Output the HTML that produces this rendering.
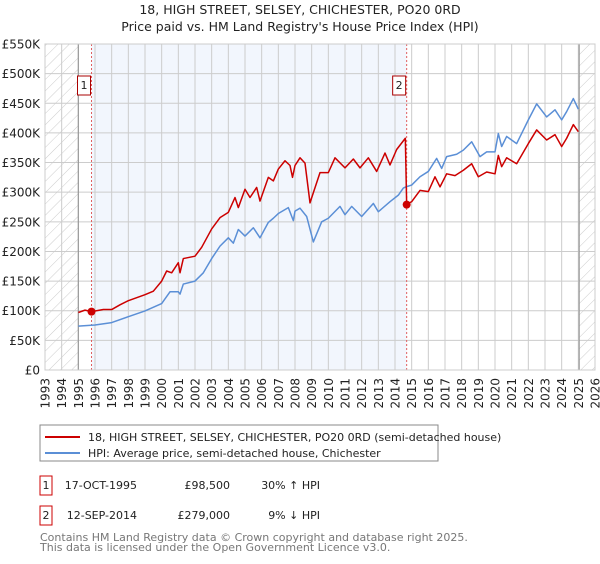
<!DOCTYPE html>
<html><head><meta charset="utf-8"><style>
body{margin:0;background:#fff;width:600px;height:560px;overflow:hidden;font-family:"DejaVu Sans","Liberation Sans",sans-serif}
svg text{font-family:"DejaVu Sans","Liberation Sans",sans-serif}
</style></head><body>
<svg id="chart" width="600" height="560" viewBox="0 0 600 560" xmlns="http://www.w3.org/2000/svg">
<defs><pattern id="hatch" patternUnits="userSpaceOnUse" width="8" height="8" patternTransform="rotate(45)"><rect width="8" height="8" fill="#fff"/><line x1="0" y1="0" x2="0" y2="8" stroke="#ccc" stroke-width="1"/></pattern></defs>
<text x="300" y="14" text-anchor="middle" font-size="12.5" fill="#222">18, HIGH STREET, SELSEY, CHICHESTER, PO20 0RD</text>
<text x="300" y="31" text-anchor="middle" font-size="12.5" fill="#222">Price paid vs. HM Land Registry's House Price Index (HPI)</text>
<g id="plot"></g>
<g>
<rect x="40" y="425" width="398" height="36" fill="#fff" stroke="#888"/>
<line x1="45" y1="437" x2="80" y2="437" stroke="#cc0000" stroke-width="2"/>
<text x="88" y="441" font-size="11" fill="#222">18, HIGH STREET, SELSEY, CHICHESTER, PO20 0RD (semi-detached house)</text>
<line x1="45" y1="453" x2="80" y2="453" stroke="#5b8fd6" stroke-width="2"/>
<text x="88" y="457" font-size="11" fill="#222">HPI: Average price, semi-detached house, Chichester</text>
</g>
<g font-size="11" fill="#222">
<rect x="40" y="476" width="12" height="19" fill="#fff" stroke="#cc0000"/>
<text x="46" y="489" text-anchor="middle">1</text>
<text x="137" y="489" text-anchor="end">17-OCT-1995</text>
<text x="230" y="489" text-anchor="end">£98,500</text>
<text x="320" y="489" text-anchor="end">30% ↑ HPI</text>
<rect x="40" y="506" width="12" height="19" fill="#fff" stroke="#cc0000"/>
<text x="46" y="519" text-anchor="middle">2</text>
<text x="137" y="519" text-anchor="end">12-SEP-2014</text>
<text x="230" y="519" text-anchor="end">£279,000</text>
<text x="320" y="519" text-anchor="end">9% ↓ HPI</text>
</g>
<text x="40" y="541" font-size="11" fill="#777">Contains HM Land Registry data © Crown copyright and database right 2025.</text>
<text x="40" y="551" font-size="11" fill="#777">This data is licensed under the Open Government Licence v3.0.</text>
</svg>
<script>
const hpiYears=[1995.0,1996.0,1997.0,1998.0,1999.0,2000.0,2000.5,2001.0,2001.1,2001.3,2002.0,2002.5,2003.0,2003.5,2004.0,2004.3,2004.6,2005.0,2005.5,2005.9,2006.4,2006.7,2007.0,2007.6,2007.9,2008.0,2008.3,2008.7,2009.1,2009.6,2010.0,2010.7,2011.0,2011.4,2012.0,2012.7,2013.0,2013.7,2014.2,2014.5,2014.66,2015.0,2015.5,2016.0,2016.5,2016.8,2017.1,2017.7,2018.1,2018.6,2019.1,2019.5,2020.0,2020.2,2020.4,2020.7,2021.3,2022.0,2022.5,2023.1,2023.6,2024.0,2024.3,2024.7,2025.0];
const hpiValues=[74,76,80,90,99.6,112,132,132,128,145,150,164,188,209,223,214,237,226,240,223,249,256,264,274,252,268,273,259,216,250,256,276,262,276,259,281,267,284,295,307,309,312,326,335,357,340,360,364,371,385,360,368,368,399,377,394,382,422,449,427,439,422,436,458,440];
const redYears=[1995.0,1995.4,1995.79,1996.5,1997.0,1997.5,1998.0,1998.5,1999.0,1999.5,2000.0,2000.3,2000.6,2001.0,2001.1,2001.3,2002.0,2002.4,2003.0,2003.5,2004.0,2004.4,2004.6,2005.0,2005.3,2005.7,2005.9,2006.4,2006.7,2007.0,2007.4,2007.7,2007.85,2008.0,2008.3,2008.6,2008.9,2009.1,2009.5,2010.0,2010.4,2011.0,2011.5,2011.9,2012.4,2012.9,2013.4,2013.7,2014.1,2014.62,2014.7,2015.0,2015.5,2016.0,2016.4,2016.7,2017.1,2017.6,2018.1,2018.6,2019.0,2019.5,2020.0,2020.2,2020.4,2020.7,2021.3,2022.0,2022.5,2023.1,2023.6,2024.0,2024.3,2024.7,2025.0];
const redValues=[97,101,98.5,102,102,110,117,122,127,133,150,167,164,181,164,188,192,207,238,257,266,291,274,305,291,308,285,325,319,339,353,345,325,345,358,349,282,299,333,333,358,341,356,341,358,335,366,346,372,391,279,284,303,301,326,309,331,328,337,348,326,334,331,362,343,358,348,382,405,388,397,377,391,414,402];
const saleYears=[1995.79,2014.7];
const saleValues=[98.5,279];
const saleLabels=["1","2"];
const yTicks=[0,50,100,150,200,250,300,350,400,450,500,550];
const yTickLabels=["£0","£50K","£100K","£150K","£200K","£250K","£300K","£350K","£400K","£450K","£500K","£550K"];
const xTicks=[1993,1994,1995,1996,1997,1998,1999,2000,2001,2002,2003,2004,2005,2006,2007,2008,2009,2010,2011,2012,2013,2014,2015,2016,2017,2018,2019,2020,2021,2022,2023,2024,2025,2026];

const X0=45,X1=595,Y0=370,Y1=44,xMin=1993,xMax=2026,yMax=550;
const sx=v=>X0+(v-xMin)/(xMax-xMin)*(X1-X0);
const sy=v=>Y0-v/yMax*(Y0-Y1);
const NS="http://www.w3.org/2000/svg";
const g=document.getElementById('plot');
function mk(t,a){const e=document.createElementNS(NS,t);for(const k in a)e.setAttribute(k,a[k]);g.appendChild(e);return e;}
let e;
e=mk('rect',{x:X0,y:Y1,width:sx(1995)-X0,height:Y0-Y1,fill:'url(#hatch)'});


e=mk('rect',{x:sx(2025.05),y:Y1,width:X1-sx(2025.05),height:Y0-Y1,fill:'url(#hatch)'});


e=mk('rect',{x:sx(saleYears[0]),y:Y1,width:sx(saleYears[1])-sx(saleYears[0]),height:Y0-Y1,fill:'#f2f6fd'});


xTicks.forEach(t=>{
 e=mk('line',{x1:sx(t),x2:sx(t),y1:Y1,y2:Y0,stroke:'#cccccc','stroke-width':1});
 
 
 e=mk('text',{x:0,y:0,'font-size':12,fill:'#222','text-anchor':'end',transform:`translate(${sx(t)+4.5},${Y0+8}) rotate(-90)`});
 e.textContent=t;
 
 
});
yTicks.forEach((t,i)=>{
 e=mk('line',{x1:X0,x2:X1,y1:sy(t),y2:sy(t),stroke:'#cccccc','stroke-width':1});
 
 
 e=mk('text',{x:40,y:sy(t)+4.5,'font-size':12,fill:'#222','text-anchor':'end'});
 e.textContent=yTickLabels[i];
 
 
});
e=mk('line',{x1:sx(1995),x2:sx(1995),y1:Y1,y2:Y0,stroke:'#999','stroke-width':1.2});


e=mk('line',{x1:sx(2025.05),x2:sx(2025.05),y1:Y1,y2:Y0,stroke:'#999','stroke-width':1.2});


saleYears.forEach((y,i)=>{
 e=mk('line',{x1:sx(y),x2:sx(y),y1:Y1,y2:Y0,stroke:'#e06060','stroke-width':1,'stroke-dasharray':'2,2'});
 
 
});
e=mk('polyline',{points:hpiYears.map((y,i)=>sx(y)+','+sy(hpiValues[i])).join(' '),fill:'none',stroke:'#5b8fd6','stroke-width':1.5,'stroke-linejoin':'round'});


e=mk('polyline',{points:redYears.map((y,i)=>sx(y)+','+sy(redValues[i])).join(' '),fill:'none',stroke:'#cc0000','stroke-width':1.5,'stroke-linejoin':'round'});


saleYears.forEach((y,i)=>{
 e=mk('circle',{cx:sx(y),cy:sy(saleValues[i]),r:4,fill:'#cc0000'});
 
 
 const bx=sx(y)-14;
 e=mk('rect',{x:bx,y:76,width:13,height:19,fill:'#fff',stroke:'#aa0000'});
 
 
 e=mk('text',{x:bx+6.5,y:89,'font-size':11,fill:'#222','text-anchor':'middle'});
 e.textContent=saleLabels[i];
 
 
});
e=mk('rect',{x:X0,y:Y1,width:X1-X0,height:Y0-Y1,fill:'none',stroke:'#cccccc'});


</script>
</body></html>
